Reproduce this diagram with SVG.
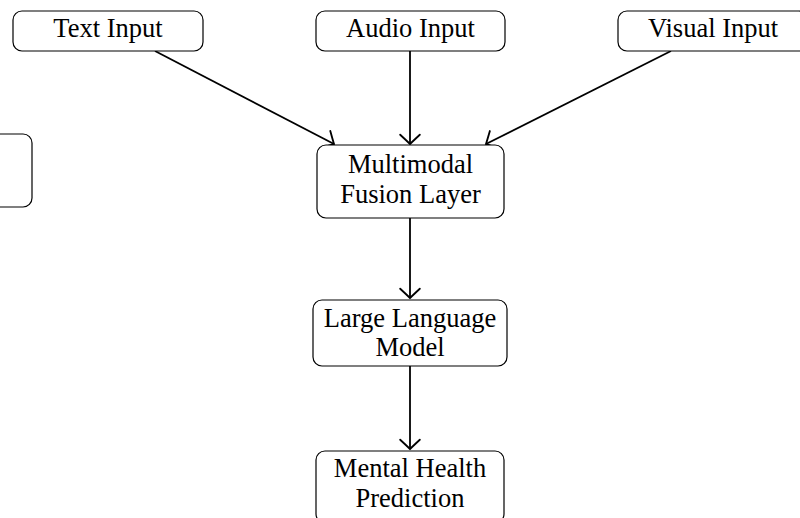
<svg xmlns="http://www.w3.org/2000/svg" width="800" height="518" viewBox="0 0 800 518">
  <defs>
    <style>
      .box { fill: #ffffff; stroke: #000000; stroke-width: 1.2; }
      .lbl { font-family: "Liberation Serif", "Times New Roman", serif; font-size: 26.5px; fill: #000000; text-anchor: middle; }
      .edge { fill: none; stroke: #000000; stroke-width: 1.8; marker-end: url(#tip); }
    </style>
    <marker id="tip" markerWidth="20" markerHeight="24" refX="0" refY="0" viewBox="-11 -11 13 22" orient="auto" markerUnits="userSpaceOnUse">
      <path d="M -8.5 -9 Q -2 -2 0 0 Q -2 2 -8.5 9" fill="none" stroke="#000000" stroke-width="1.7" stroke-linecap="round"/>
    </marker>
  </defs>
  <rect width="800" height="518" fill="#ffffff"/>

  <g id="connectors">
    <path class="edge" d="M 155 51 L 334 144"/>
    <path class="edge" d="M 410 51 L 410 144"/>
    <path class="edge" d="M 671 51 L 486 144"/>
    <path class="edge" d="M 410 218 L 410 298"/>
    <path class="edge" d="M 410 366 L 410 449"/>
  </g>

  <g id="left-partial">
    <rect class="box" x="-40" y="134" width="72" height="73" rx="9"/>
  </g>

  <g id="text-input">
    <rect class="box" x="13" y="11" width="190" height="40" rx="9"/>
    <text class="lbl" x="108" y="37">Text Input</text>
  </g>

  <g id="audio-input">
    <rect class="box" x="316" y="11" width="189" height="40" rx="9"/>
    <text class="lbl" x="410.5" y="37">Audio Input</text>
  </g>

  <g id="visual-input">
    <rect class="box" x="618" y="11" width="190" height="40" rx="9"/>
    <text class="lbl" x="713" y="37">Visual Input</text>
  </g>

  <g id="fusion">
    <rect class="box" x="317" y="145" width="187" height="73" rx="9"/>
    <text class="lbl" x="410.5" y="173">Multimodal</text>
    <text class="lbl" x="410.5" y="202.5">Fusion Layer</text>
  </g>

  <g id="llm">
    <rect class="box" x="313" y="300" width="194" height="66" rx="9"/>
    <text class="lbl" x="410" y="326.5">Large Language</text>
    <text class="lbl" x="410" y="355.5">Model</text>
  </g>

  <g id="prediction">
    <rect class="box" x="316" y="451" width="188" height="72" rx="9"/>
    <text class="lbl" x="410" y="477">Mental Health</text>
    <text class="lbl" x="410" y="507">Prediction</text>
  </g>
</svg>
